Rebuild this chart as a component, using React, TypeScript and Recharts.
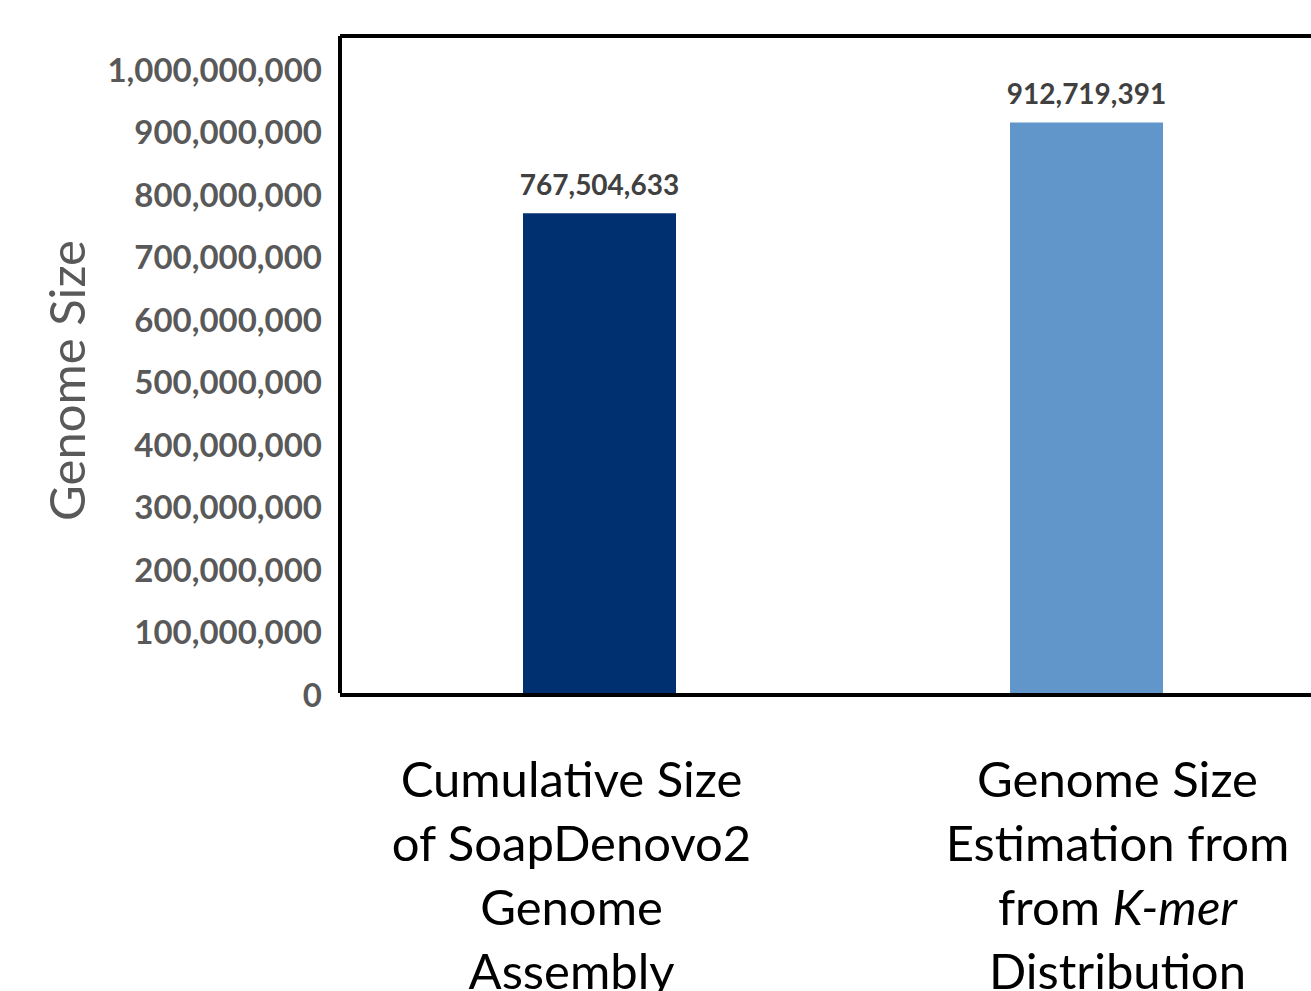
import { BarChart, Bar, XAxis, YAxis, Cell, LabelList, ReferenceLine } from "recharts";

const CATEGORIES = ["SoapDenovo2 Assembly", "K-mer Estimation"];
const CATEGORY_LINES = [
  ["Cumulative Size", "of SoapDenovo2", "Genome", "Assembly"],
  ["Genome Size", "Estimation from", "from *K-mer*", "Distribution"],
];
const GENOME_SIZES = [767504633, 912719391];
const Y_TICKS = [
  0, 100000000, 200000000, 300000000, 400000000, 500000000, 600000000,
  700000000, 800000000, 900000000, 1000000000,
];
const Y_MAX = 1051000000;

const BAR_COLORS = ["#003070", "#6096C9"];
const LABEL_NUDGE = [-28, 31];
const FONT = "Lato, 'Open Sans', sans-serif";

const data = CATEGORIES.map((name, i) => ({ name, size: GENOME_SIZES[i] }));

const fmt = (v: number) => v.toLocaleString("en-US");

function CategoryTick(props: any) {
  const { x, y, index } = props;
  const lines = CATEGORY_LINES[index] ?? [];
  const cx = x + (LABEL_NUDGE[index] ?? 0);
  return (
    <text
      x={cx}
      y={y}
      textAnchor="middle"
      fontFamily={FONT}
      fontSize={49}
      fill="#000"
    >
      {lines.map((line, i) => {
        const parts = line.split("*");
        return (
          <tspan key={i} x={cx} y={y + 96 + i * 64}>
            {parts.map((p, j) => (
              <tspan key={j} fontStyle={j % 2 === 1 ? "italic" : "normal"}>
                {p}
              </tspan>
            ))}
          </tspan>
        );
      })}
    </text>
  );
}

function ValueTick(props: any) {
  const { x, y, payload } = props;
  return (
    <text
      x={x}
      y={y + 2}
      dy="0.36em"
      textAnchor="end"
      fontFamily={FONT}
      fontWeight={700}
      fontSize={33}
      fill="#595959"
    >
      {fmt(payload.value)}
    </text>
  );
}

function AxisTitle(props: any) {
  const vb = props.viewBox ?? { x: 0, y: 0, width: 0, height: 0 };
  const tx = vb.x + 85;
  const ty = vb.y + vb.height / 2 + 16;
  return (
    <text
      x={tx}
      y={ty}
      transform={`rotate(-90, ${tx}, ${ty})`}
      textAnchor="middle"
      fontFamily={FONT}
      fontSize={49}
      fill="#595959"
    >
      Genome Size
    </text>
  );
}

export default function App() {
  return (
    <div
      style={{
        position: "absolute",
        left: 0,
        top: 0,
        width: 1311,
        height: 991,
        overflow: "hidden",
        background: "#fff",
      }}
    >
      <BarChart
        width={1340}
        height={1000}
        data={data}
        margin={{ top: 36, right: 10, bottom: 0, left: 0 }}
      >
        <XAxis
          dataKey="name"
          height={307}
          padding={{ left: 16, right: 0 }}
          axisLine={{ stroke: "#000", strokeWidth: 4, transform: "translate(0, 2)" }}
          tickLine={false}
          tick={<CategoryTick />}
          interval={0}
        />
        <YAxis
          width={340}
          domain={[0, Y_MAX]}
          ticks={Y_TICKS}
          allowDataOverflow
          tickLine={false}
          tickSize={0}
          tickMargin={18}
          axisLine={{ stroke: "#000", strokeWidth: 4 }}
          tick={<ValueTick />}
          label={<AxisTitle />}
        />
        <ReferenceLine y={Y_MAX} stroke="#000" strokeWidth={4} />
        <Bar dataKey="size" barSize={153} isAnimationActive={false}>
          {data.map((d, i) => (
            <Cell key={d.name} fill={BAR_COLORS[i]} />
          ))}
          <LabelList
            dataKey="size"
            position="top"
            offset={18}
            formatter={(v: any) => fmt(Number(v))}
            style={{
              fontFamily: FONT,
              fontWeight: 700,
              fontSize: 28,
              fill: "#404040",
            }}
          />
        </Bar>
      </BarChart>
    </div>
  );
}
